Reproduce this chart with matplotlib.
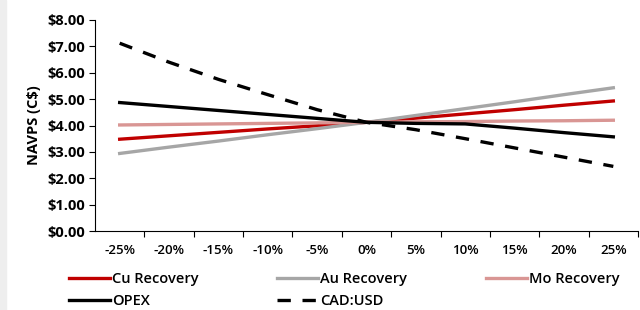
import matplotlib.pyplot as plt
from matplotlib.patches import Rectangle

# Sensitivity categories (x axis)
labels = ['-25%', '-20%', '-15%', '-10%', '-5%', '0%',
          '5%', '10%', '15%', '20%', '25%']

# NAVPS (C$) for each sensitivity
cu_recovery = [3.48, 3.61, 3.74, 3.87, 3.99, 4.12, 4.28, 4.44, 4.60, 4.77, 4.93]
au_recovery = [2.94, 3.18, 3.41, 3.65, 3.88, 4.12, 4.38, 4.64, 4.90, 5.17, 5.43]
mo_recovery = [4.02, 4.04, 4.06, 4.08, 4.10, 4.12, 4.14, 4.15, 4.17, 4.18, 4.20]
opex = [4.87, 4.72, 4.57, 4.42, 4.27, 4.12, 4.08, 4.06, 3.90, 3.73, 3.57]
cad_usd = [7.12, 6.40, 5.75, 5.17, 4.60, 4.12, 3.84, 3.50, 3.15, 2.80, 2.45]

yticks = [0, 1, 2, 3, 4, 5, 6, 7, 8]


def main():
    plt.rcParams['font.family'] = ['Open Sans', 'DejaVu Sans']
    fig = plt.figure(figsize=(6.4, 3.1), dpi=100)
    # light grey strip at the left edge
    fig.patches.append(Rectangle((0, 0), 6 / 640, 1, transform=fig.transFigure,
                                 color='#eeeeee', zorder=0))
    ax = fig.add_axes([95 / 640, 1 - 231 / 310, 543 / 640, 211 / 310])

    x = list(range(len(labels)))
    lw = 2.4
    cu, = ax.plot(x, cu_recovery, color='#c00000', lw=lw, label='Cu Recovery')
    au, = ax.plot(x, au_recovery, color='#a6a6a6', lw=lw, label='Au Recovery')
    mo, = ax.plot(x, mo_recovery, color='#d99694', lw=lw, label='Mo Recovery')
    op, = ax.plot(x, opex, color='black', lw=lw, label='OPEX')
    cad, = ax.plot(x, cad_usd, color='black', lw=lw, dashes=(4, 3.5),
                   label='CAD:USD')

    ax.set_xlim(-0.5, len(labels) - 0.5)
    ax.set_ylim(0, 8)
    ax.set_yticks(yticks)
    ax.set_yticklabels(['${:.2f}'.format(v) for v in yticks],
                       fontsize=10.5, fontweight='bold')
    ax.set_xticks(x)
    ax.set_xticklabels(labels, fontsize=9.5, fontweight='semibold')
    ax.set_xticks([i + 0.5 for i in x], minor=True)
    ax.tick_params(axis='x', which='major', length=0, pad=9)
    ax.tick_params(axis='x', which='minor', length=4, width=0.8)
    ax.tick_params(axis='y', length=4, width=0.8, pad=3)
    ax.set_ylabel('NAVPS (C$)', fontsize=10.5, fontweight='bold', labelpad=5)

    for side in ['top', 'right']:
        ax.spines[side].set_visible(False)
    for side in ['left', 'bottom']:
        ax.spines[side].set_linewidth(0.8)

    # row-major order for a 3-column legend: Cu, Au, Mo / OPEX, CAD:USD
    handles = [cu, op, au, cad, mo]
    fig.legend(handles, [h.get_label() for h in handles],
               loc='upper left', bbox_to_anchor=(57 / 640, 1 - 260 / 310),
               ncol=3, frameon=False, borderpad=0.3,
               prop={'weight': 'semibold', 'size': 10.5},
               handlelength=2.8, handletextpad=0.15, columnspacing=5.4,
               labelspacing=0.6)

    fig.savefig('out.png', dpi=100)


main()
